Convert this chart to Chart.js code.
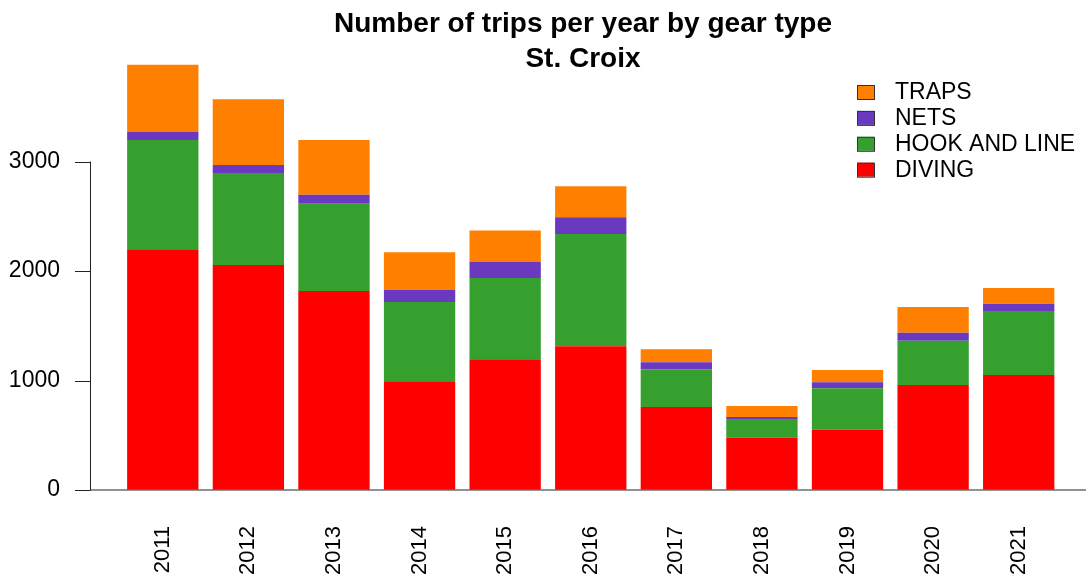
<!DOCTYPE html>
<html>
<head>
<meta charset="utf-8">
<title>Number of trips per year by gear type</title>
<script src="https://cdn.jsdelivr.net/npm/chart.js@4.4.0/dist/chart.umd.min.js"></script>
<style>
    html, body { margin: 0; padding: 0; background: #ffffff; }
</style>
</head>
<body>
<canvas id="tripsChart" width="1086" height="578"></canvas>
<script>
// trips per year, one array per gear type (stacked bottom to top)
const years = ['2011', '2012', '2013', '2014', '2015', '2016', '2017', '2018', '2019', '2020', '2021'];
const diving = [2198, 2055, 1817, 993, 1193, 1312, 758, 478, 551, 959, 1050];
const hookAndLine = [998, 840, 798, 724, 743, 1026, 344, 170, 378, 405, 585];
const nets = [73, 73, 82, 109, 146, 152, 64, 19, 54, 73, 66];
const traps = [615, 600, 499, 345, 289, 283, 119, 100, 113, 234, 144];
const yTicks = [0, 1000, 2000, 3000];

const titleLines = ['Number of trips per year by gear type', 'St. Croix'];
const fontFamily = "'Liberation Sans', Arial, sans-serif";

// axis lines, title and legend drawn the way base R graphics would
const baseGraphics = {
    id: 'baseGraphics',
    afterDraw(chart) {
        const ctx = chart.ctx;
        const area = chart.chartArea;
        const y = chart.scales.y;
        const axisX = area.left - 30;
        const y0 = y.getPixelForValue(yTicks[0]);
        const yTop = y.getPixelForValue(yTicks[yTicks.length - 1]);

        ctx.save();

        // x baseline
        ctx.strokeStyle = '#6e6e6e';
        ctx.lineWidth = 1.5;
        ctx.beginPath();
        ctx.moveTo(axisX, y0);
        ctx.lineTo(chart.width, y0);
        ctx.stroke();

        // y axis line and ticks
        ctx.strokeStyle = '#222222';
        ctx.lineWidth = 1;
        ctx.beginPath();
        ctx.moveTo(axisX + 0.5, y0);
        ctx.lineTo(axisX + 0.5, yTop);
        yTicks.forEach(v => {
            const py = Math.round(y.getPixelForValue(v)) + 0.5;
            ctx.moveTo(axisX - 15, py);
            ctx.lineTo(axisX + 0.5, py);
        });
        ctx.stroke();

        // title
        ctx.fillStyle = '#000000';
        ctx.font = 'bold 28px ' + fontFamily;
        ctx.textAlign = 'center';
        ctx.textBaseline = 'alphabetic';
        titleLines.forEach((line, i) => {
            ctx.fillText(line, 583, 32 + i * 35);
        });

        // legend, top series first
        ctx.font = '23px ' + fontFamily;
        ctx.textAlign = 'left';
        ctx.textBaseline = 'middle';
        const items = chart.data.datasets.slice().reverse();
        items.forEach((ds, i) => {
            const cy = 92 + i * 25.9;
            ctx.fillStyle = ds.backgroundColor;
            ctx.fillRect(857, cy - 7, 17, 14);
            ctx.strokeStyle = '#333333';
            ctx.lineWidth = 1;
            ctx.strokeRect(857.5, cy - 6.5, 17, 14);
            ctx.fillStyle = '#000000';
            ctx.fillText(ds.label, 895, cy + 1);
        });

        ctx.restore();
    }
};

const noScalePadding = (scale) => {
    scale.paddingTop = 0;
    scale.paddingBottom = 0;
    scale.paddingLeft = 0;
    scale.paddingRight = 0;
};

const ctx = document.getElementById('tripsChart').getContext('2d');

const tripsChart = new Chart(ctx, {
    type: 'bar',
    data: {
        labels: years,
        datasets: [
            { label: 'DIVING', data: diving, backgroundColor: '#ff0000' },
            { label: 'HOOK AND LINE', data: hookAndLine, backgroundColor: '#35a02e' },
            { label: 'NETS', data: nets, backgroundColor: '#6b38c0' },
            { label: 'TRAPS', data: traps, backgroundColor: '#ff8000' }
        ]
    },
    options: {
        responsive: false,
        devicePixelRatio: 1,
        animation: false,
        layout: {
            padding: { top: 52, right: 24.5, bottom: 0, left: 0 }
        },
        datasets: {
            bar: {
                categoryPercentage: 1,
                barPercentage: 1 / 1.2,
                borderWidth: 0
            }
        },
        plugins: {
            legend: { display: false },
            title: { display: false },
            tooltip: { enabled: false }
        },
        scales: {
            x: {
                stacked: true,
                grid: { display: false },
                border: { display: false },
                ticks: {
                    color: '#000000',
                    font: { family: fontFamily, size: 22 },
                    minRotation: 90,
                    maxRotation: 90,
                    autoSkip: false,
                    padding: 28
                },
                afterFit: (scale) => {
                    scale.height = 88;
                    noScalePadding(scale);
                }
            },
            y: {
                stacked: true,
                min: 0,
                max: 4000,
                grid: { display: false },
                border: { display: false },
                ticks: {
                    color: '#000000',
                    font: { family: fontFamily, size: 23 },
                    padding: 52,
                    callback: (value) => String(value)
                },
                afterBuildTicks: (scale) => {
                    scale.ticks = yTicks.map(v => ({ value: v }));
                },
                afterFit: (scale) => {
                    scale.width = 120;
                    noScalePadding(scale);
                }
            }
        }
    },
    plugins: [baseGraphics]
});
</script>
</body>
</html>
